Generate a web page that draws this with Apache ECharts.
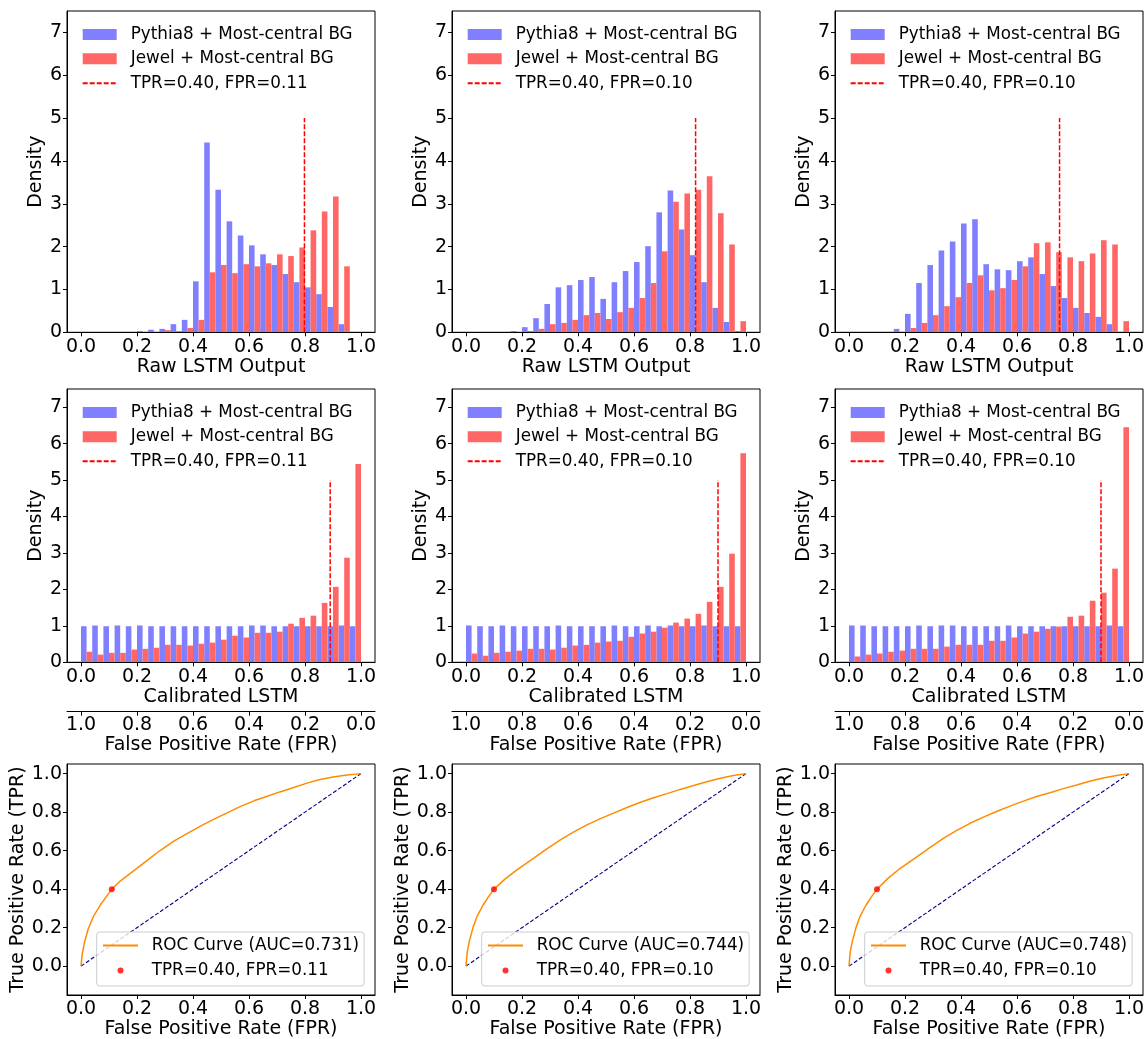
<!DOCTYPE html>
<html>
<head>
<meta charset="utf-8">
<script src="https://cdn.jsdelivr.net/npm/echarts@6/dist/echarts.min.js"></script>
<style>
  html, body { margin: 0; padding: 0; background: #fff; }
  #chart { width: 1145px; height: 1039px; }
</style>
</head>
<body>
<div id="chart"></div>
<script>
// ---------------- data ----------------
const BIN_STARTS = [0.00, 0.04, 0.08, 0.12, 0.16, 0.20, 0.24, 0.28, 0.32, 0.36, 0.40, 0.44, 0.48,
                    0.52, 0.56, 0.60, 0.64, 0.68, 0.72, 0.76, 0.80, 0.84, 0.88, 0.92, 0.96];
const BIN_WIDTH = 0.04;

const LABEL_PYTHIA = 'Pythia8 + Most-central BG';
const LABEL_JEWEL = 'Jewel + Most-central BG';

// raw LSTM output densities (one pair per column)
const RAW_PYTHIA_1 = [0, 0, 0, 0, 0, 0.03, 0.06, 0.08, 0.19, 0.29, 1.19, 4.43, 3.33, 2.59, 2.26, 2.03, 1.82, 1.57, 1.36, 1.17, 1.05, 0.89, 0.59, 0.19, 0];
const RAW_JEWEL_1  = [0, 0, 0, 0, 0, 0, 0, 0.05, 0.03, 0.10, 0.29, 1.40, 1.57, 1.38, 1.59, 1.54, 1.61, 1.82, 1.78, 1.98, 2.38, 2.82, 3.17, 1.54, 0];
const RAW_PYTHIA_2 = [0, 0, 0, 0, 0.03, 0.12, 0.33, 0.66, 1.05, 1.10, 1.22, 1.29, 0.78, 1.17, 1.43, 1.64, 2.01, 2.80, 3.31, 2.40, 1.80, 1.17, 0.57, 0.24, 0.03];
const RAW_JEWEL_2  = [0, 0, 0, 0, 0, 0.03, 0.08, 0.19, 0.22, 0.29, 0.40, 0.45, 0.31, 0.47, 0.57, 0.80, 1.15, 1.89, 3.05, 3.24, 3.33, 3.64, 2.78, 2.05, 0.26];
const RAW_PYTHIA_3 = [0, 0, 0, 0, 0.08, 0.43, 1.15, 1.57, 1.91, 2.12, 2.54, 2.64, 1.59, 1.47, 1.45, 1.66, 1.75, 1.36, 1.08, 0.80, 0.57, 0.45, 0.36, 0.19, 0];
const RAW_JEWEL_3  = [0, 0, 0, 0, 0, 0.10, 0.22, 0.40, 0.61, 0.82, 1.15, 1.33, 0.98, 1.03, 1.22, 1.54, 2.08, 2.10, 1.87, 1.75, 1.66, 1.84, 2.15, 2.05, 0.26];

// calibrated LSTM densities
const CAL_PYTHIA_1 = [0.99, 1.01, 0.99, 1.01, 0.99, 1.01, 0.99, 0.99, 0.99, 0.99, 0.99, 0.99, 0.99, 0.99, 0.99, 1.01, 1.01, 0.99, 0.99, 0.99, 0.99, 0.99, 0.99, 1.01, 0.99];
const CAL_JEWEL_1  = [0.29, 0.21, 0.26, 0.26, 0.35, 0.37, 0.40, 0.48, 0.48, 0.46, 0.51, 0.54, 0.62, 0.73, 0.68, 0.81, 0.81, 0.84, 1.06, 1.22, 1.28, 1.63, 2.07, 2.87, 5.44];
const CAL_PYTHIA_2 = [1.01, 0.99, 0.99, 1.01, 0.99, 0.99, 0.99, 0.99, 1.01, 0.99, 0.99, 0.99, 0.99, 1.01, 0.99, 0.99, 1.01, 0.99, 1.01, 0.99, 0.99, 1.01, 0.99, 0.99, 0.99];
const CAL_JEWEL_2  = [0.24, 0.18, 0.26, 0.29, 0.32, 0.37, 0.37, 0.35, 0.40, 0.46, 0.48, 0.54, 0.57, 0.59, 0.70, 0.79, 0.84, 0.95, 1.09, 1.20, 1.33, 1.66, 2.07, 2.98, 5.74];
const CAL_PYTHIA_3 = [1.01, 1.01, 0.99, 0.99, 0.99, 0.99, 1.01, 0.99, 1.01, 1.01, 0.99, 0.99, 0.99, 0.99, 1.01, 0.99, 0.99, 0.99, 0.99, 0.99, 0.99, 0.99, 0.99, 1.01, 0.99];
const CAL_JEWEL_3  = [0.16, 0.21, 0.24, 0.29, 0.32, 0.37, 0.37, 0.37, 0.43, 0.48, 0.48, 0.48, 0.59, 0.59, 0.68, 0.79, 0.84, 0.92, 0.98, 1.25, 1.28, 1.69, 1.91, 2.57, 6.45];

// working point of each column
const TPR_AT_CUT = 0.40;
const FPR_AT_CUT = [0.11, 0.10, 0.10];
const RAW_CUT = [0.798, 0.820, 0.752];
const CUT_LINE_TOP = 5;
const AUC = [0.731, 0.744, 0.748];

// ROC curves
const ROC_FPR_1 = [0, 0.004, 0.012, 0.025, 0.045, 0.07, 0.09, 0.11, 0.14, 0.19, 0.24, 0.28, 0.33, 0.38, 0.43, 0.47, 0.52, 0.57, 0.62, 0.66, 0.71, 0.76, 0.81, 0.85, 0.90, 0.95, 1.0];
const ROC_TPR_1 = [0, 0.06, 0.12, 0.19, 0.26, 0.32, 0.36, 0.40, 0.442, 0.497, 0.553, 0.598, 0.648, 0.69, 0.73, 0.76, 0.795, 0.83, 0.86, 0.88, 0.905, 0.928, 0.952, 0.968, 0.983, 0.993, 1.0];
const ROC_FPR_2 = [0, 0.004, 0.012, 0.025, 0.04, 0.06, 0.08, 0.10, 0.14, 0.182, 0.242, 0.29, 0.337, 0.385, 0.432, 0.48, 0.527, 0.575, 0.623, 0.67, 0.718, 0.765, 0.813, 0.86, 0.908, 0.955, 1.0];
const ROC_TPR_2 = [0, 0.07, 0.13, 0.20, 0.26, 0.315, 0.36, 0.40, 0.453, 0.50, 0.561, 0.61, 0.656, 0.697, 0.734, 0.766, 0.795, 0.824, 0.851, 0.875, 0.896, 0.918, 0.938, 0.958, 0.976, 0.99, 1.0];
const ROC_FPR_3 = [0, 0.004, 0.012, 0.025, 0.04, 0.06, 0.08, 0.10, 0.14, 0.182, 0.242, 0.29, 0.337, 0.385, 0.432, 0.48, 0.527, 0.575, 0.623, 0.67, 0.718, 0.765, 0.813, 0.86, 0.908, 0.955, 1.0];
const ROC_TPR_3 = [0, 0.07, 0.13, 0.20, 0.26, 0.315, 0.36, 0.40, 0.457, 0.507, 0.568, 0.617, 0.664, 0.705, 0.742, 0.774, 0.803, 0.831, 0.857, 0.881, 0.901, 0.922, 0.941, 0.96, 0.977, 0.99, 1.0];

// tick positions
const UNIT_TICKS = [0, 0.2, 0.4, 0.6, 0.8, 1.0];
const DENSITY_TICKS = [0, 1, 2, 3, 4, 5, 6, 7];

const COLUMNS = [
  { raw: [RAW_PYTHIA_1, RAW_JEWEL_1], cal: [CAL_PYTHIA_1, CAL_JEWEL_1], roc: [ROC_FPR_1, ROC_TPR_1] },
  { raw: [RAW_PYTHIA_2, RAW_JEWEL_2], cal: [CAL_PYTHIA_2, CAL_JEWEL_2], roc: [ROC_FPR_2, ROC_TPR_2] },
  { raw: [RAW_PYTHIA_3, RAW_JEWEL_3], cal: [CAL_PYTHIA_3, CAL_JEWEL_3], roc: [ROC_FPR_3, ROC_TPR_3] }
];

// ---------------- layout & style ----------------
const FONT = 'DejaVu Sans';
const BLUE = '#8080ff';
const RED = '#ff6666';
const COL_LEFT = [67, 452, 835];
const PANEL_W = 308;
const ROW = {
  raw: { top: 11, height: 321.3 },
  cal: { top: 389, height: 273.3 },
  roc: { top: 764, height: 231 }
};
// legend entries for line series: keep the stroke, hide the marker
const NO_MARKER = { opacity: 0, borderWidth: 0 };

const grids = [], xAxes = [], yAxes = [], series = [], legends = [];

function addGrid(left, top, height) {
  grids.push({
    left: left, top: top, width: PANEL_W, height: height,
    show: true, borderColor: '#000', borderWidth: 1, backgroundColor: 'transparent',
    containLabel: false, outerBoundsMode: 'none'
  });
  return grids.length - 1;
}

function axis(opts) {
  const fmt = opts.fmt || (v => v.toFixed(1));
  return {
    type: 'value', gridIndex: opts.grid, z: 3,
    position: opts.position, offset: opts.offset || 0, inverse: !!opts.inverse,
    min: opts.min, max: opts.max,
    splitLine: { show: false },
    axisLine: { show: true, onZero: false, lineStyle: { color: '#000', width: 1 } },
    axisTick: { show: true, length: 4, lineStyle: { color: '#000', width: 1 }, customValues: opts.ticks },
    axisLabel: { show: true, color: '#000', fontFamily: FONT, fontSize: 19, margin: opts.margin || 5,
                 customValues: opts.ticks, formatter: fmt },
    name: opts.name || '', nameLocation: 'middle', nameGap: opts.nameGap, nameMoveOverlap: false,
    nameTextStyle: { color: '#000', fontFamily: FONT, fontSize: 19 }
  };
}

function histSeries(key, label, values, color, half, axisIndex) {
  return {
    type: 'custom', name: key + '|' + label,
    xAxisIndex: axisIndex.x, yAxisIndex: axisIndex.y,
    itemStyle: { color: color },
    data: BIN_STARTS.map((s, i) => [s, values[i]]),
    encode: { x: 0, y: 1 },
    renderItem: function (params, api) {
      const start = api.value(0), h = api.value(1);
      if (!h) return null;
      const x0 = start + half * BIN_WIDTH / 2;
      const x1 = x0 + BIN_WIDTH / 2;
      const a = api.coord([x0, h]);
      const b = api.coord([x1, 0]);
      return {
        type: 'rect',
        shape: { x: a[0], y: a[1], width: b[0] - a[0], height: b[1] - a[1] },
        style: { fill: color }
      };
    }
  };
}

function cutLabel(c) {
  return 'TPR=' + TPR_AT_CUT.toFixed(2) + ', FPR=' + FPR_AT_CUT[c].toFixed(2);
}

function histLegend(key, c, left, top) {
  return {
    show: true, orient: 'vertical', left: left, top: top, padding: 0,
    itemWidth: 34, itemHeight: 11, itemGap: 7.35, selectedMode: false,
    data: [
      { name: key + '|' + LABEL_PYTHIA, icon: 'rect' },
      { name: key + '|' + LABEL_JEWEL, icon: 'rect' },
      { name: key + '|' + cutLabel(c), itemStyle: NO_MARKER }
    ],
    formatter: n => n.split('|')[1],
    textStyle: { color: '#000', fontFamily: FONT, fontSize: 16.8, lineHeight: 17, padding: [0, 0, 0, 9] }
  };
}

COLUMNS.forEach((col, c) => {
  const L = COL_LEFT[c];

  // --- raw LSTM output histogram ---
  const gRaw = addGrid(L, ROW.raw.top, ROW.raw.height);
  const xRaw = xAxes.length;
  xAxes.push(axis({ grid: gRaw, position: 'bottom', min: -0.05, max: 1.05, ticks: UNIT_TICKS,
                    name: 'Raw LSTM Output', nameGap: 25 }));
  const yRaw = yAxes.length;
  yAxes.push(axis({ grid: gRaw, position: 'left', min: 0, max: 7.5, ticks: DENSITY_TICKS,
                    fmt: v => String(v), name: 'Density', nameGap: 21 }));
  const kRaw = 'raw' + c;
  series.push(histSeries(kRaw, LABEL_PYTHIA, col.raw[0], BLUE, 0, { x: xRaw, y: yRaw }));
  series.push(histSeries(kRaw, LABEL_JEWEL, col.raw[1], RED, 1, { x: xRaw, y: yRaw }));
  series.push({
    type: 'line', name: kRaw + '|' + cutLabel(c), xAxisIndex: xRaw, yAxisIndex: yRaw,
    symbol: 'none', silent: true, itemStyle: { color: '#ff0000' },
    lineStyle: { color: '#ff0000', width: 1.5, type: [5, 2] },
    data: [[RAW_CUT[c], 0], [RAW_CUT[c], CUT_LINE_TOP]]
  });
  legends.push(histLegend(kRaw, c, L + 14.7, ROW.raw.top + 15));

  // --- calibrated LSTM histogram with FPR axis underneath ---
  const gCal = addGrid(L, ROW.cal.top, ROW.cal.height);
  const xCal = xAxes.length;
  xAxes.push(axis({ grid: gCal, position: 'bottom', min: -0.05, max: 1.05, ticks: UNIT_TICKS,
                    name: 'Calibrated LSTM', nameGap: 25 }));
  xAxes.push(axis({ grid: gCal, position: 'bottom', offset: 49.4, inverse: true, min: -0.05, max: 1.05,
                    ticks: UNIT_TICKS, margin: 4, name: 'False Positive Rate (FPR)', nameGap: 24 }));
  const yCal = yAxes.length;
  yAxes.push(axis({ grid: gCal, position: 'left', min: 0, max: 7.5, ticks: DENSITY_TICKS,
                    fmt: v => String(v), name: 'Density', nameGap: 21 }));
  const kCal = 'cal' + c;
  series.push(histSeries(kCal, LABEL_PYTHIA, col.cal[0], BLUE, 0, { x: xCal, y: yCal }));
  series.push(histSeries(kCal, LABEL_JEWEL, col.cal[1], RED, 1, { x: xCal, y: yCal }));
  const calCut = 1 - FPR_AT_CUT[c];
  series.push({
    type: 'line', name: kCal + '|' + cutLabel(c), xAxisIndex: xCal, yAxisIndex: yCal,
    symbol: 'none', silent: true, itemStyle: { color: '#ff0000' },
    lineStyle: { color: '#ff0000', width: 1.5, type: [5, 2] },
    data: [[calCut, 0], [calCut, CUT_LINE_TOP]]
  });
  legends.push(histLegend(kCal, c, L + 14.7, ROW.cal.top + 15));

  // --- ROC curve ---
  const gRoc = addGrid(L, ROW.roc.top, ROW.roc.height);
  const xRoc = xAxes.length;
  xAxes.push(axis({ grid: gRoc, position: 'bottom', min: -0.05, max: 1.05, ticks: UNIT_TICKS,
                    name: 'False Positive Rate (FPR)', nameGap: 25 }));
  const yRoc = yAxes.length;
  yAxes.push(axis({ grid: gRoc, position: 'left', min: -0.15, max: 1.05, ticks: UNIT_TICKS,
                    name: 'True Positive Rate (TPR)', nameGap: 39 }));
  const kRoc = 'roc' + c;
  const fpr = col.roc[0], tpr = col.roc[1];
  const rocName = kRoc + '|ROC Curve (AUC=' + AUC[c].toFixed(3) + ')';
  series.push({
    type: 'line', name: rocName,
    xAxisIndex: xRoc, yAxisIndex: yRoc, symbol: 'none', silent: true, z: 3,
    itemStyle: { color: '#ff8c00' },
    lineStyle: { color: '#ff8c00', width: 1.5 },
    data: fpr.map((f, i) => [f, tpr[i]])
  });
  series.push({
    type: 'line', name: kRoc + '|diag', xAxisIndex: xRoc, yAxisIndex: yRoc,
    symbol: 'none', silent: true, z: 2,
    lineStyle: { color: '#000080', width: 1.1, type: [4, 2] },
    data: [[0, 0], [1, 1]]
  });
  series.push({
    type: 'scatter', name: kRoc + '|' + cutLabel(c), xAxisIndex: xRoc, yAxisIndex: yRoc,
    symbol: 'circle', symbolSize: 6, silent: true, z: 4,
    itemStyle: { color: '#ff0000' },
    data: [[FPR_AT_CUT[c], TPR_AT_CUT]]
  });
  legends.push({
    show: true, orient: 'vertical', left: L + 29.7, top: ROW.roc.top + 168,
    padding: [5, 5, 7, 5.3], itemWidth: 35, itemHeight: 6, itemGap: 8, selectedMode: false,
    borderColor: '#cccccc', borderWidth: 1, borderRadius: 3, backgroundColor: 'rgba(255,255,255,0.8)',
    data: [
      { name: rocName, itemStyle: NO_MARKER },
      { name: kRoc + '|' + cutLabel(c), icon: 'circle' }
    ],
    formatter: n => n.split('|')[1],
    textStyle: { color: '#000', fontFamily: FONT, fontSize: 16.8, lineHeight: 17, padding: [0, 0, 0, 8.7] }
  });
});

const chart = echarts.init(document.getElementById('chart'), null, { renderer: 'canvas' });
chart.setOption({
  animation: false,
  backgroundColor: '#fff',
  textStyle: { fontFamily: FONT },
  grid: grids,
  xAxis: xAxes,
  yAxis: yAxes,
  legend: legends,
  series: series
});
</script>
</body>
</html>
